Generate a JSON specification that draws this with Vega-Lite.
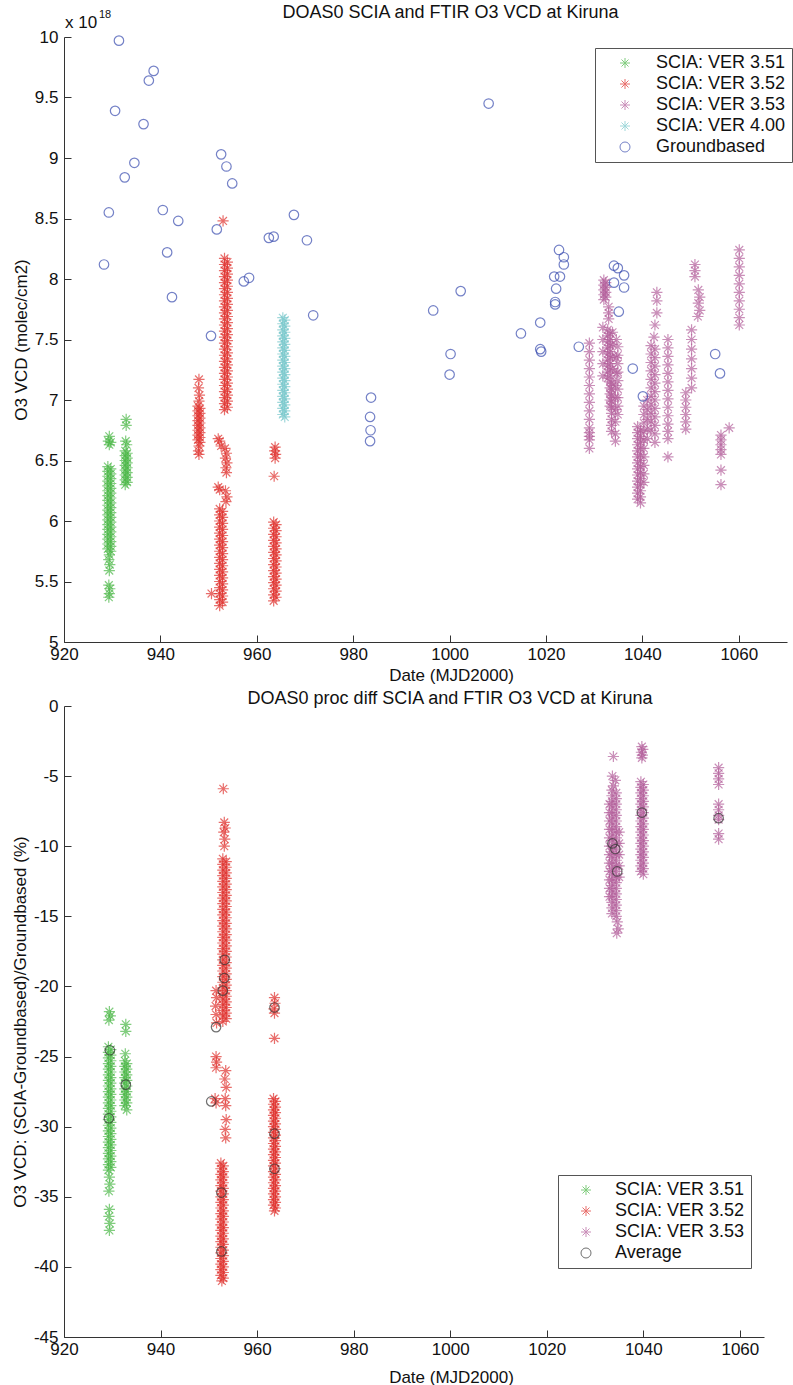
{
"$schema":"https://vega.github.io/schema/vega-lite/v6.json",
"padding":{"left":11,"top":4,"right":0,"bottom":0},
"background":"white",
"config":{"view":{"stroke":null},"font":"Liberation Sans",
"axis":{"domainColor":"#333","domainWidth":1,"tickColor":"#333","tickSize":-7,"tickWidth":1,"labelFontSize":17,"labelColor":"#111","titleFontSize":17,"titleFontWeight":"normal","titleColor":"#111","grid":false,"labelFlush":false,"labelOverlap":false},
"axisX":{"labelPadding":11,"titlePadding":5},
"axisY":{"labelPadding":13,"titlePadding":4},
"title":{"fontSize":18,"fontWeight":"normal","color":"#111","font":"Liberation Sans"}},
"datasets":{
"t351":[{"d":929.4,"v":6.70},{"d":929.2,"v":6.66},{"d":929.7,"v":6.65},{"d":929.4,"v":6.63},
{"d":929.1,"v":6.45},{"d":929.1,"v":6.41},{"d":929.1,"v":6.37},{"d":929.1,"v":6.33},{"d":929.1,"v":6.29},{"d":929.1,"v":6.25},{"d":929.1,"v":6.21},{"d":929.1,"v":6.17},{"d":929.1,"v":6.13},{"d":929.1,"v":6.09},{"d":929.1,"v":6.05},{"d":929.1,"v":6.01},{"d":929.1,"v":5.97},{"d":929.1,"v":5.93},{"d":929.1,"v":5.89},{"d":929.1,"v":5.85},{"d":929.1,"v":5.81},{"d":929.1,"v":5.77},
{"d":929.7,"v":6.43},{"d":929.7,"v":6.39},{"d":929.7,"v":6.35},{"d":929.7,"v":6.31},{"d":929.7,"v":6.27},{"d":929.7,"v":6.23},{"d":929.7,"v":6.19},{"d":929.7,"v":6.15},{"d":929.7,"v":6.11},{"d":929.7,"v":6.07},{"d":929.7,"v":6.03},{"d":929.7,"v":5.99},{"d":929.7,"v":5.95},{"d":929.7,"v":5.91},{"d":929.7,"v":5.87},{"d":929.7,"v":5.83},{"d":929.7,"v":5.79},{"d":929.7,"v":5.75},
{"d":929.4,"v":5.72},{"d":929.3,"v":5.68},{"d":929.5,"v":5.64},{"d":929.4,"v":5.59},
{"d":929.3,"v":5.47},{"d":929.5,"v":5.44},{"d":929.4,"v":5.40},{"d":929.3,"v":5.37},
{"d":932.9,"v":6.84},{"d":932.9,"v":6.79},{"d":932.8,"v":6.66},{"d":933.0,"v":6.63},
{"d":932.7,"v":6.58},{"d":932.7,"v":6.54},{"d":932.7,"v":6.50},{"d":932.7,"v":6.46},{"d":932.7,"v":6.42},{"d":932.7,"v":6.38},{"d":932.7,"v":6.34},{"d":932.7,"v":6.30},
{"d":933.1,"v":6.56},{"d":933.1,"v":6.52},{"d":933.1,"v":6.48},{"d":933.1,"v":6.44},{"d":933.1,"v":6.40},{"d":933.1,"v":6.36},{"d":933.1,"v":6.32}],
"t352":[{"d":948.0,"v":7.17},{"d":947.9,"v":7.10},{"d":948.1,"v":7.04},{"d":948.0,"v":6.99},
{"d":947.8,"v":6.95},{"d":947.8,"v":6.91},{"d":947.8,"v":6.87},{"d":947.8,"v":6.83},{"d":947.8,"v":6.79},{"d":947.8,"v":6.75},{"d":947.8,"v":6.71},{"d":947.8,"v":6.67},
{"d":948.2,"v":6.93},{"d":948.2,"v":6.89},{"d":948.2,"v":6.85},{"d":948.2,"v":6.81},{"d":948.2,"v":6.77},{"d":948.2,"v":6.73},{"d":948.2,"v":6.69},{"d":948.2,"v":6.65},
{"d":948.0,"v":6.62},{"d":947.9,"v":6.58},{"d":948.0,"v":6.55},
{"d":953.0,"v":8.48},
{"d":953.3,"v":8.17},{"d":953.3,"v":8.12},{"d":953.3,"v":8.07},{"d":953.3,"v":8.02},{"d":953.3,"v":7.97},{"d":953.3,"v":7.92},{"d":953.3,"v":7.87},{"d":953.3,"v":7.82},{"d":953.3,"v":7.77},{"d":953.3,"v":7.72},{"d":953.3,"v":7.67},{"d":953.3,"v":7.62},{"d":953.3,"v":7.57},{"d":953.3,"v":7.52},{"d":953.3,"v":7.47},{"d":953.3,"v":7.42},{"d":953.3,"v":7.37},{"d":953.3,"v":7.32},{"d":953.3,"v":7.27},{"d":953.3,"v":7.22},{"d":953.3,"v":7.17},{"d":953.3,"v":7.12},{"d":953.3,"v":7.07},{"d":953.3,"v":7.02},{"d":953.3,"v":6.97},{"d":953.3,"v":6.92},
{"d":953.9,"v":8.14},{"d":953.9,"v":8.09},{"d":953.9,"v":8.04},{"d":953.9,"v":7.99},{"d":953.9,"v":7.94},{"d":953.9,"v":7.89},{"d":953.9,"v":7.84},{"d":953.9,"v":7.79},{"d":953.9,"v":7.74},{"d":953.9,"v":7.69},{"d":953.9,"v":7.64},{"d":953.9,"v":7.59},{"d":953.9,"v":7.54},{"d":953.9,"v":7.49},{"d":953.9,"v":7.44},{"d":953.9,"v":7.39},{"d":953.9,"v":7.34},{"d":953.9,"v":7.29},{"d":953.9,"v":7.24},{"d":953.9,"v":7.19},{"d":953.9,"v":7.14},{"d":953.9,"v":7.09},{"d":953.9,"v":7.04},{"d":953.9,"v":6.99},{"d":953.9,"v":6.94},
{"d":952.3,"v":6.10},{"d":952.3,"v":6.05},{"d":952.3,"v":6.00},{"d":952.3,"v":5.95},{"d":952.3,"v":5.90},{"d":952.3,"v":5.85},{"d":952.3,"v":5.80},{"d":952.3,"v":5.75},{"d":952.3,"v":5.70},{"d":952.3,"v":5.65},{"d":952.3,"v":5.60},{"d":952.3,"v":5.55},{"d":952.3,"v":5.50},{"d":952.3,"v":5.45},{"d":952.3,"v":5.40},{"d":952.3,"v":5.35},{"d":952.3,"v":5.30},
{"d":952.9,"v":6.08},{"d":952.9,"v":6.03},{"d":952.9,"v":5.98},{"d":952.9,"v":5.93},{"d":952.9,"v":5.88},{"d":952.9,"v":5.83},{"d":952.9,"v":5.78},{"d":952.9,"v":5.73},{"d":952.9,"v":5.68},{"d":952.9,"v":5.63},{"d":952.9,"v":5.58},{"d":952.9,"v":5.53},{"d":952.9,"v":5.48},{"d":952.9,"v":5.43},{"d":952.9,"v":5.38},{"d":952.9,"v":5.33},
{"d":952.0,"v":6.68},{"d":952.3,"v":6.66},{"d":952.6,"v":6.62},{"d":953.4,"v":6.60},{"d":953.7,"v":6.56},{"d":953.5,"v":6.52},{"d":953.8,"v":6.48},{"d":953.6,"v":6.44},{"d":953.7,"v":6.40},{"d":952.0,"v":6.28},{"d":952.3,"v":6.26},{"d":953.5,"v":6.25},{"d":953.8,"v":6.20},{"d":953.6,"v":6.16},
{"d":950.6,"v":5.40},
{"d":963.5,"v":5.99},{"d":963.5,"v":5.94},{"d":963.5,"v":5.89},{"d":963.5,"v":5.84},{"d":963.5,"v":5.79},{"d":963.5,"v":5.74},{"d":963.5,"v":5.69},{"d":963.5,"v":5.64},{"d":963.5,"v":5.59},{"d":963.5,"v":5.54},{"d":963.5,"v":5.49},{"d":963.5,"v":5.44},{"d":963.5,"v":5.39},{"d":963.5,"v":5.34},
{"d":964.0,"v":5.97},{"d":964.0,"v":5.92},{"d":964.0,"v":5.87},{"d":964.0,"v":5.82},{"d":964.0,"v":5.77},{"d":964.0,"v":5.72},{"d":964.0,"v":5.67},{"d":964.0,"v":5.62},{"d":964.0,"v":5.57},{"d":964.0,"v":5.52},{"d":964.0,"v":5.47},{"d":964.0,"v":5.42},{"d":964.0,"v":5.37},
{"d":963.8,"v":6.61},{"d":963.7,"v":6.58},{"d":963.9,"v":6.55},{"d":963.8,"v":6.52},{"d":963.6,"v":6.37}],
"t400":[{"d":965.4,"v":7.68},{"d":965.4,"v":7.63},{"d":965.4,"v":7.58},{"d":965.4,"v":7.53},{"d":965.4,"v":7.48},{"d":965.4,"v":7.43},{"d":965.4,"v":7.38},{"d":965.4,"v":7.33},{"d":965.4,"v":7.28},{"d":965.4,"v":7.23},{"d":965.4,"v":7.18},{"d":965.4,"v":7.13},{"d":965.4,"v":7.08},{"d":965.4,"v":7.03},{"d":965.4,"v":6.98},{"d":965.4,"v":6.93},{"d":965.4,"v":6.88},
{"d":965.8,"v":7.66},{"d":965.8,"v":7.61},{"d":965.8,"v":7.56},{"d":965.8,"v":7.51},{"d":965.8,"v":7.46},{"d":965.8,"v":7.41},{"d":965.8,"v":7.36},{"d":965.8,"v":7.31},{"d":965.8,"v":7.26},{"d":965.8,"v":7.21},{"d":965.8,"v":7.16},{"d":965.8,"v":7.11},{"d":965.8,"v":7.06},{"d":965.8,"v":7.01},{"d":965.8,"v":6.96},{"d":965.8,"v":6.91},{"d":965.8,"v":6.86}],
"t353":[{"d":1029.0,"v":7.47},{"d":1029.0,"v":7.40},{"d":1029.0,"v":7.33},{"d":1029.0,"v":7.26},{"d":1029.0,"v":7.19},{"d":1029.0,"v":7.12},{"d":1029.0,"v":7.05},{"d":1029.0,"v":6.98},{"d":1029.0,"v":6.91},{"d":1029.0,"v":6.84},{"d":1029.0,"v":6.77},{"d":1029.0,"v":6.73},{"d":1029.0,"v":6.70},{"d":1029.0,"v":6.67},{"d":1029.0,"v":6.60},
{"d":1032.0,"v":7.99},{"d":1032.0,"v":7.95},{"d":1032.0,"v":7.91},{"d":1032.0,"v":7.87},{"d":1032.0,"v":7.83},
{"d":1032.4,"v":7.97},{"d":1032.4,"v":7.93},{"d":1032.4,"v":7.89},{"d":1032.4,"v":7.85},
{"d":1033.0,"v":7.77},{"d":1033.0,"v":7.72},{"d":1033.0,"v":7.67},
{"d":1031.8,"v":7.60},{"d":1031.8,"v":7.50},{"d":1031.8,"v":7.40},{"d":1031.8,"v":7.30},{"d":1031.8,"v":7.20},
{"d":1032.8,"v":7.58},{"d":1032.8,"v":7.53},{"d":1032.8,"v":7.48},{"d":1032.8,"v":7.43},{"d":1032.8,"v":7.38},{"d":1032.8,"v":7.33},{"d":1032.8,"v":7.28},{"d":1032.8,"v":7.23},{"d":1032.8,"v":7.18},
{"d":1033.3,"v":7.55},{"d":1033.3,"v":7.50},{"d":1033.3,"v":7.45},{"d":1033.3,"v":7.40},{"d":1033.3,"v":7.35},{"d":1033.3,"v":7.30},{"d":1033.3,"v":7.25},{"d":1033.3,"v":7.20},{"d":1033.3,"v":7.15},{"d":1033.3,"v":7.10},{"d":1033.3,"v":7.05},{"d":1033.3,"v":7.00},{"d":1033.3,"v":6.95},
{"d":1033.8,"v":7.56},{"d":1033.8,"v":7.46},{"d":1033.8,"v":7.36},{"d":1033.8,"v":7.26},
{"d":1034.6,"v":7.50},{"d":1034.6,"v":7.35},{"d":1034.6,"v":7.22},
{"d":1034.9,"v":7.44},{"d":1034.9,"v":7.37},{"d":1034.9,"v":7.30},{"d":1034.9,"v":7.23},{"d":1034.9,"v":7.16},{"d":1034.9,"v":7.09},{"d":1034.9,"v":7.02},{"d":1034.9,"v":6.95},{"d":1034.9,"v":6.88},
{"d":1033.6,"v":7.14},{"d":1033.6,"v":7.09},{"d":1033.6,"v":7.04},{"d":1033.6,"v":6.99},{"d":1033.6,"v":6.94},{"d":1033.6,"v":6.89},{"d":1033.6,"v":6.84},{"d":1033.6,"v":6.79},{"d":1033.6,"v":6.74},
{"d":1034.4,"v":7.12},{"d":1034.4,"v":7.02},{"d":1034.4,"v":6.92},{"d":1034.4,"v":6.82},{"d":1034.4,"v":6.72},{"d":1034.4,"v":6.66},
{"d":1039.0,"v":6.78},{"d":1039.0,"v":6.73},{"d":1039.0,"v":6.68},{"d":1039.0,"v":6.63},{"d":1039.0,"v":6.58},{"d":1039.0,"v":6.53},{"d":1039.0,"v":6.48},{"d":1039.0,"v":6.43},{"d":1039.0,"v":6.38},{"d":1039.0,"v":6.33},{"d":1039.0,"v":6.28},{"d":1039.0,"v":6.23},{"d":1039.0,"v":6.18},
{"d":1039.6,"v":6.75},{"d":1039.6,"v":6.70},{"d":1039.6,"v":6.65},{"d":1039.6,"v":6.60},{"d":1039.6,"v":6.55},{"d":1039.6,"v":6.50},{"d":1039.6,"v":6.45},{"d":1039.6,"v":6.40},{"d":1039.6,"v":6.35},{"d":1039.6,"v":6.30},{"d":1039.6,"v":6.25},{"d":1039.6,"v":6.20},{"d":1039.6,"v":6.15},
{"d":1040.3,"v":6.95},{"d":1040.3,"v":6.88},{"d":1040.3,"v":6.81},{"d":1040.3,"v":6.74},{"d":1040.3,"v":6.67},{"d":1040.3,"v":6.60},{"d":1040.3,"v":6.53},{"d":1040.3,"v":6.46},{"d":1040.3,"v":6.39},{"d":1040.3,"v":6.32},
{"d":1043.0,"v":7.89},{"d":1043.0,"v":7.82},{"d":1043.0,"v":7.72},{"d":1042.6,"v":7.62},{"d":1042.4,"v":7.52},
{"d":1041.8,"v":7.45},{"d":1041.8,"v":7.38},{"d":1041.8,"v":7.31},{"d":1041.8,"v":7.24},{"d":1041.8,"v":7.17},{"d":1041.8,"v":7.10},{"d":1041.8,"v":7.03},{"d":1041.8,"v":6.96},{"d":1041.8,"v":6.89},{"d":1041.8,"v":6.82},{"d":1041.8,"v":6.75},
{"d":1042.6,"v":7.42},{"d":1042.6,"v":7.35},{"d":1042.6,"v":7.28},{"d":1042.6,"v":7.21},{"d":1042.6,"v":7.14},{"d":1042.6,"v":7.07},{"d":1042.6,"v":7.00},{"d":1042.6,"v":6.93},{"d":1042.6,"v":6.86},{"d":1042.6,"v":6.79},{"d":1042.6,"v":6.72},{"d":1042.6,"v":6.65},
{"d":1041.0,"v":7.00},{"d":1041.0,"v":6.92},{"d":1041.0,"v":6.84},{"d":1041.0,"v":6.76},{"d":1041.0,"v":6.68},
{"d":1045.3,"v":7.50},{"d":1045.3,"v":7.43},{"d":1045.3,"v":7.36},{"d":1045.3,"v":7.29},{"d":1045.3,"v":7.22},{"d":1045.3,"v":7.15},{"d":1045.3,"v":7.08},{"d":1045.3,"v":7.01},{"d":1045.3,"v":6.94},{"d":1045.3,"v":6.87},{"d":1045.3,"v":6.80},{"d":1045.3,"v":6.74},{"d":1045.3,"v":6.68},{"d":1045.3,"v":6.53},
{"d":1049.0,"v":7.06},{"d":1049.0,"v":7.00},{"d":1049.0,"v":6.94},{"d":1049.0,"v":6.88},{"d":1049.0,"v":6.82},{"d":1049.0,"v":6.76},
{"d":1050.2,"v":7.58},{"d":1050.2,"v":7.50},{"d":1050.2,"v":7.42},{"d":1050.2,"v":7.34},{"d":1050.2,"v":7.26},{"d":1050.2,"v":7.18},{"d":1050.2,"v":7.10},
{"d":1050.9,"v":8.12},{"d":1050.9,"v":8.07},{"d":1050.9,"v":8.02},
{"d":1051.6,"v":7.91},{"d":1051.9,"v":7.85},{"d":1051.6,"v":7.80},{"d":1051.9,"v":7.74},{"d":1051.5,"v":7.69},
{"d":1056.3,"v":6.71},{"d":1056.3,"v":6.67},{"d":1056.3,"v":6.63},{"d":1056.3,"v":6.59},{"d":1056.3,"v":6.55},{"d":1056.3,"v":6.42},{"d":1056.3,"v":6.30},
{"d":1058.0,"v":6.77},
{"d":1060.1,"v":8.24},{"d":1060.1,"v":8.17},{"d":1060.1,"v":8.10},{"d":1060.1,"v":8.03},{"d":1060.1,"v":7.96},{"d":1060.1,"v":7.89},{"d":1060.1,"v":7.82},{"d":1060.1,"v":7.75},{"d":1060.1,"v":7.68},{"d":1060.1,"v":7.62}],
"tgb":[{"d":931.4,"v":9.97},{"d":938.6,"v":9.72},{"d":937.6,"v":9.64},{"d":930.6,"v":9.39},{"d":936.5,"v":9.28},{"d":934.6,"v":8.96},{"d":932.6,"v":8.84},{"d":952.6,"v":9.03},{"d":953.7,"v":8.93},{"d":954.9,"v":8.79},{"d":929.3,"v":8.55},{"d":928.3,"v":8.12},{"d":940.5,"v":8.57},{"d":943.7,"v":8.48},{"d":941.4,"v":8.22},{"d":942.4,"v":7.85},{"d":951.7,"v":8.41},{"d":962.5,"v":8.34},{"d":963.5,"v":8.35},{"d":967.7,"v":8.53},{"d":957.3,"v":7.98},{"d":958.4,"v":8.01},{"d":970.4,"v":8.32},{"d":971.7,"v":7.70},{"d":950.5,"v":7.53},{"d":983.7,"v":7.02},{"d":983.5,"v":6.86},{"d":983.6,"v":6.75},{"d":983.5,"v":6.66},{"d":1008.1,"v":9.45},{"d":996.6,"v":7.74},{"d":1000.2,"v":7.38},{"d":1000.0,"v":7.21},{"d":1002.3,"v":7.90},
{"d":1022.7,"v":8.24},{"d":1023.7,"v":8.18},{"d":1023.7,"v":8.12},{"d":1021.7,"v":8.02},{"d":1022.9,"v":8.02},{"d":1022.1,"v":7.92},{"d":1021.9,"v":7.81},{"d":1021.9,"v":7.79},{"d":1018.8,"v":7.64},{"d":1014.8,"v":7.55},{"d":1018.8,"v":7.42},{"d":1019.0,"v":7.40},{"d":1026.8,"v":7.44},{"d":1034.1,"v":8.11},{"d":1034.9,"v":8.09},{"d":1036.2,"v":8.03},{"d":1034.1,"v":7.97},{"d":1036.2,"v":7.93},{"d":1035.1,"v":7.73},{"d":1038.0,"v":7.26},{"d":1040.1,"v":7.03},{"d":1055.1,"v":7.38},{"d":1056.1,"v":7.22}],
"tcorner":[{"d":920,"v":10}],
"b351":[{"d":929.4,"v":-21.8},{"d":929.6,"v":-22.1},{"d":929.3,"v":-22.4},
{"d":929.2,"v":-24.3},{"d":929.2,"v":-24.7},{"d":929.2,"v":-25.1},{"d":929.2,"v":-25.5},{"d":929.2,"v":-25.9},{"d":929.2,"v":-26.3},{"d":929.2,"v":-26.7},{"d":929.2,"v":-27.1},{"d":929.2,"v":-27.5},{"d":929.2,"v":-27.9},{"d":929.2,"v":-28.3},{"d":929.2,"v":-28.7},{"d":929.2,"v":-29.1},{"d":929.2,"v":-29.5},{"d":929.2,"v":-29.9},{"d":929.2,"v":-30.3},{"d":929.2,"v":-30.7},{"d":929.2,"v":-31.1},{"d":929.2,"v":-31.5},{"d":929.2,"v":-31.9},{"d":929.2,"v":-32.3},{"d":929.2,"v":-32.7},{"d":929.2,"v":-33.1},
{"d":929.7,"v":-24.5},{"d":929.7,"v":-24.9},{"d":929.7,"v":-25.3},{"d":929.7,"v":-25.7},{"d":929.7,"v":-26.1},{"d":929.7,"v":-26.5},{"d":929.7,"v":-26.9},{"d":929.7,"v":-27.3},{"d":929.7,"v":-27.7},{"d":929.7,"v":-28.1},{"d":929.7,"v":-28.5},{"d":929.7,"v":-28.9},{"d":929.7,"v":-29.3},{"d":929.7,"v":-29.7},{"d":929.7,"v":-30.1},{"d":929.7,"v":-30.5},{"d":929.7,"v":-30.9},{"d":929.7,"v":-31.3},{"d":929.7,"v":-31.7},{"d":929.7,"v":-32.1},{"d":929.7,"v":-32.5},{"d":929.7,"v":-32.9},
{"d":929.4,"v":-33.6},{"d":929.5,"v":-34.1},{"d":929.3,"v":-34.6},
{"d":929.4,"v":-35.9},{"d":929.3,"v":-36.4},{"d":929.5,"v":-36.9},{"d":929.4,"v":-37.4},
{"d":932.8,"v":-22.7},{"d":932.8,"v":-23.2},{"d":932.7,"v":-24.8},
{"d":932.6,"v":-25.3},{"d":932.6,"v":-25.7},{"d":932.6,"v":-26.1},{"d":932.6,"v":-26.5},{"d":932.6,"v":-26.9},{"d":932.6,"v":-27.3},{"d":932.6,"v":-27.7},{"d":932.6,"v":-28.1},{"d":932.6,"v":-28.5},
{"d":933.0,"v":-25.5},{"d":933.0,"v":-25.9},{"d":933.0,"v":-26.3},{"d":933.0,"v":-26.7},{"d":933.0,"v":-27.1},{"d":933.0,"v":-27.5},{"d":933.0,"v":-27.9},{"d":933.0,"v":-28.3},{"d":933.0,"v":-28.8}],
"b352":[{"d":953.0,"v":-5.9},
{"d":953.2,"v":-8.3},{"d":953.4,"v":-8.7},{"d":953.1,"v":-9.0},{"d":953.3,"v":-9.5},{"d":953.2,"v":-10.0},
{"d":952.9,"v":-10.9},{"d":952.9,"v":-11.3},{"d":952.9,"v":-11.7},{"d":952.9,"v":-12.1},{"d":952.9,"v":-12.5},{"d":952.9,"v":-12.9},{"d":952.9,"v":-13.3},{"d":952.9,"v":-13.7},{"d":952.9,"v":-14.1},{"d":952.9,"v":-14.5},{"d":952.9,"v":-14.9},{"d":952.9,"v":-15.3},{"d":952.9,"v":-15.7},{"d":952.9,"v":-16.1},{"d":952.9,"v":-16.5},{"d":952.9,"v":-16.9},{"d":952.9,"v":-17.3},{"d":952.9,"v":-17.7},{"d":952.9,"v":-18.1},{"d":952.9,"v":-18.5},{"d":952.9,"v":-18.9},{"d":952.9,"v":-19.3},{"d":952.9,"v":-19.7},{"d":952.9,"v":-20.1},{"d":952.9,"v":-20.5},{"d":952.9,"v":-20.9},{"d":952.9,"v":-21.3},{"d":952.9,"v":-21.7},{"d":952.9,"v":-22.1},{"d":952.9,"v":-22.5},
{"d":953.6,"v":-11.1},{"d":953.6,"v":-11.5},{"d":953.6,"v":-11.9},{"d":953.6,"v":-12.3},{"d":953.6,"v":-12.7},{"d":953.6,"v":-13.1},{"d":953.6,"v":-13.5},{"d":953.6,"v":-13.9},{"d":953.6,"v":-14.3},{"d":953.6,"v":-14.7},{"d":953.6,"v":-15.1},{"d":953.6,"v":-15.5},{"d":953.6,"v":-15.9},{"d":953.6,"v":-16.3},{"d":953.6,"v":-16.7},{"d":953.6,"v":-17.1},{"d":953.6,"v":-17.5},{"d":953.6,"v":-17.9},{"d":953.6,"v":-18.3},{"d":953.6,"v":-18.7},{"d":953.6,"v":-19.1},{"d":953.6,"v":-19.5},{"d":953.6,"v":-19.9},{"d":953.6,"v":-20.3},{"d":953.6,"v":-20.7},{"d":953.6,"v":-21.1},{"d":953.6,"v":-21.5},{"d":953.6,"v":-21.9},{"d":953.6,"v":-22.3},
{"d":952.5,"v":-32.6},{"d":952.5,"v":-33.0},{"d":952.5,"v":-33.4},{"d":952.5,"v":-33.8},{"d":952.5,"v":-34.2},{"d":952.5,"v":-34.6},{"d":952.5,"v":-35.0},{"d":952.5,"v":-35.4},{"d":952.5,"v":-35.8},{"d":952.5,"v":-36.2},{"d":952.5,"v":-36.6},{"d":952.5,"v":-37.0},{"d":952.5,"v":-37.4},{"d":952.5,"v":-37.8},{"d":952.5,"v":-38.2},{"d":952.5,"v":-38.6},{"d":952.5,"v":-39.0},{"d":952.5,"v":-39.4},{"d":952.5,"v":-39.8},{"d":952.5,"v":-40.2},{"d":952.5,"v":-40.6},
{"d":953.0,"v":-32.8},{"d":953.0,"v":-33.2},{"d":953.0,"v":-33.6},{"d":953.0,"v":-34.0},{"d":953.0,"v":-34.4},{"d":953.0,"v":-34.8},{"d":953.0,"v":-35.2},{"d":953.0,"v":-35.6},{"d":953.0,"v":-36.0},{"d":953.0,"v":-36.4},{"d":953.0,"v":-36.8},{"d":953.0,"v":-37.2},{"d":953.0,"v":-37.6},{"d":953.0,"v":-38.0},{"d":953.0,"v":-38.4},{"d":953.0,"v":-38.8},{"d":953.0,"v":-39.2},{"d":953.0,"v":-39.6},{"d":953.0,"v":-40.0},{"d":953.0,"v":-40.4},{"d":953.0,"v":-40.8},{"d":952.7,"v":-41.0},
{"d":953.5,"v":-26.0},{"d":953.3,"v":-26.6},{"d":953.6,"v":-27.2},{"d":953.4,"v":-28.0},{"d":953.5,"v":-28.5},{"d":953.6,"v":-29.5},{"d":953.4,"v":-30.2},{"d":953.5,"v":-30.8},
{"d":951.5,"v":-20.3},{"d":951.6,"v":-20.8},{"d":951.4,"v":-21.4},{"d":951.5,"v":-22.0},{"d":951.6,"v":-22.6},{"d":951.5,"v":-25.0},{"d":951.6,"v":-25.4},{"d":951.5,"v":-25.8},{"d":951.3,"v":-28.0},{"d":951.5,"v":-28.3},
{"d":963.6,"v":-20.8},{"d":963.7,"v":-21.2},{"d":963.5,"v":-21.6},{"d":963.6,"v":-21.9},{"d":963.6,"v":-23.7},
{"d":963.4,"v":-28.0},{"d":963.4,"v":-28.4},{"d":963.4,"v":-28.8},{"d":963.4,"v":-29.2},{"d":963.4,"v":-29.6},{"d":963.4,"v":-30.0},{"d":963.4,"v":-30.4},{"d":963.4,"v":-30.8},{"d":963.4,"v":-31.2},{"d":963.4,"v":-31.6},{"d":963.4,"v":-32.0},{"d":963.4,"v":-32.4},{"d":963.4,"v":-32.8},{"d":963.4,"v":-33.2},{"d":963.4,"v":-33.6},{"d":963.4,"v":-34.0},{"d":963.4,"v":-34.4},{"d":963.4,"v":-34.8},{"d":963.4,"v":-35.2},{"d":963.4,"v":-35.6},
{"d":963.8,"v":-28.2},{"d":963.8,"v":-28.6},{"d":963.8,"v":-29.0},{"d":963.8,"v":-29.4},{"d":963.8,"v":-29.8},{"d":963.8,"v":-30.2},{"d":963.8,"v":-30.6},{"d":963.8,"v":-31.0},{"d":963.8,"v":-31.4},{"d":963.8,"v":-31.8},{"d":963.8,"v":-32.2},{"d":963.8,"v":-32.6},{"d":963.8,"v":-33.0},{"d":963.8,"v":-33.4},{"d":963.8,"v":-33.8},{"d":963.8,"v":-34.2},{"d":963.8,"v":-34.6},{"d":963.8,"v":-35.0},{"d":963.8,"v":-35.4},{"d":963.8,"v":-35.8},{"d":963.6,"v":-36.0}],
"b353":[{"d":1033.8,"v":-3.6},{"d":1033.6,"v":-5.0},{"d":1034.2,"v":-5.3},{"d":1033.8,"v":-5.7},
{"d":1033.5,"v":-6.0},{"d":1033.5,"v":-6.4},{"d":1033.5,"v":-6.8},{"d":1033.5,"v":-7.2},{"d":1033.5,"v":-7.6},{"d":1033.5,"v":-8.0},{"d":1033.5,"v":-8.4},{"d":1033.5,"v":-8.8},{"d":1033.5,"v":-9.2},{"d":1033.5,"v":-9.6},{"d":1033.5,"v":-10.0},{"d":1033.5,"v":-10.4},{"d":1033.5,"v":-10.8},{"d":1033.5,"v":-11.2},{"d":1033.5,"v":-11.6},{"d":1033.5,"v":-12.0},{"d":1033.5,"v":-12.4},{"d":1033.5,"v":-12.8},{"d":1033.5,"v":-13.2},{"d":1033.5,"v":-13.6},{"d":1033.5,"v":-14.0},{"d":1033.5,"v":-14.4},{"d":1033.5,"v":-14.8},
{"d":1034.4,"v":-6.2},{"d":1034.4,"v":-6.6},{"d":1034.4,"v":-7.0},{"d":1034.4,"v":-7.4},{"d":1034.4,"v":-7.8},{"d":1034.4,"v":-8.2},{"d":1034.4,"v":-8.6},{"d":1034.4,"v":-9.0},{"d":1034.4,"v":-9.4},{"d":1034.4,"v":-9.8},{"d":1034.4,"v":-10.2},{"d":1034.4,"v":-10.6},{"d":1034.4,"v":-11.0},{"d":1034.4,"v":-11.4},{"d":1034.4,"v":-11.8},{"d":1034.4,"v":-12.2},{"d":1034.4,"v":-12.6},{"d":1034.4,"v":-13.0},{"d":1034.4,"v":-13.4},{"d":1034.4,"v":-13.8},{"d":1034.4,"v":-14.2},{"d":1034.4,"v":-14.6},{"d":1034.4,"v":-15.0},
{"d":1033.0,"v":-7.0},{"d":1033.0,"v":-7.6},{"d":1033.0,"v":-8.2},{"d":1033.0,"v":-8.8},{"d":1033.0,"v":-9.4},{"d":1033.0,"v":-10.0},{"d":1033.0,"v":-10.6},{"d":1033.0,"v":-11.2},{"d":1033.0,"v":-11.8},{"d":1033.0,"v":-12.4},{"d":1033.0,"v":-13.0},{"d":1033.0,"v":-13.6},
{"d":1035.0,"v":-9.0},{"d":1035.0,"v":-9.8},{"d":1035.0,"v":-10.6},{"d":1035.0,"v":-11.4},{"d":1035.0,"v":-12.2},
{"d":1034.6,"v":-15.4},{"d":1034.8,"v":-15.9},{"d":1034.5,"v":-16.2},
{"d":1039.7,"v":-2.9},{"d":1039.9,"v":-3.1},{"d":1039.6,"v":-3.3},{"d":1039.8,"v":-3.5},{"d":1039.7,"v":-3.7},
{"d":1039.5,"v":-5.4},{"d":1039.5,"v":-5.8},{"d":1039.5,"v":-6.2},{"d":1039.5,"v":-6.6},{"d":1039.5,"v":-7.0},{"d":1039.5,"v":-7.4},{"d":1039.5,"v":-7.8},{"d":1039.5,"v":-8.2},{"d":1039.5,"v":-8.6},{"d":1039.5,"v":-9.0},{"d":1039.5,"v":-9.4},{"d":1039.5,"v":-9.8},{"d":1039.5,"v":-10.2},{"d":1039.5,"v":-10.6},{"d":1039.5,"v":-11.0},{"d":1039.5,"v":-11.4},{"d":1039.5,"v":-11.8},
{"d":1040.0,"v":-5.6},{"d":1040.0,"v":-6.0},{"d":1040.0,"v":-6.4},{"d":1040.0,"v":-6.8},{"d":1040.0,"v":-7.2},{"d":1040.0,"v":-7.6},{"d":1040.0,"v":-8.0},{"d":1040.0,"v":-8.4},{"d":1040.0,"v":-8.8},{"d":1040.0,"v":-9.2},{"d":1040.0,"v":-9.6},{"d":1040.0,"v":-10.0},{"d":1040.0,"v":-10.4},{"d":1040.0,"v":-10.8},{"d":1040.0,"v":-11.2},{"d":1040.0,"v":-11.6},{"d":1040.0,"v":-12.0},
{"d":1055.6,"v":-4.4},{"d":1055.6,"v":-4.8},{"d":1055.6,"v":-5.2},{"d":1055.6,"v":-5.6},{"d":1055.6,"v":-7.0},{"d":1055.6,"v":-7.4},{"d":1055.6,"v":-7.8},{"d":1055.6,"v":-8.1},{"d":1055.6,"v":-9.1},{"d":1055.6,"v":-9.5}],
"bavg":[{"d":929.5,"v":-24.55},{"d":929.3,"v":-29.4},{"d":932.8,"v":-27.0},{"d":953.3,"v":-18.1},{"d":953.2,"v":-19.4},{"d":952.9,"v":-20.3},{"d":951.5,"v":-22.9},{"d":950.5,"v":-28.2},{"d":952.6,"v":-34.7},{"d":952.6,"v":-38.9},{"d":963.6,"v":-21.5},{"d":963.6,"v":-30.5},{"d":963.6,"v":-33.0},{"d":1033.6,"v":-9.8},{"d":1034.2,"v":-10.2},{"d":1034.6,"v":-11.8},{"d":1039.7,"v":-7.6},{"d":1055.6,"v":-8.0}]
},
"vconcat":[
{
"width":723,"height":605,
"title":{"text":"DOAS0 SCIA and FTIR O3 VCD  at Kiruna","dx":25,"offset":-13},
"encoding":{
"x":{"field":"d","type":"quantitative","scale":{"domain":[920,1070],"nice":false,"zero":false},"axis":{"title":"Date (MJD2000)","values":[920,940,960,980,1000,1020,1040,1060],"labelExpr":"'' + datum.value","titleX":387}},
"y":{"field":"v","type":"quantitative","scale":{"domain":[5,10],"nice":false,"zero":false},"axis":{"title":"O3 VCD (molec/cm2)","values":[5,5.5,6,6.5,7,7.5,8,8.5,9,9.5,10],"labelExpr":"'' + datum.value"}}
},
"layer":[
{"data":{"name":"t351"},"mark":{"type":"point","filled":false,"size":125,"strokeWidth":1.2},
"encoding":{
"color":{"datum":"SCIA: VER 3.51","type":"nominal","scale":{"domain":["SCIA: VER 3.51","SCIA: VER 3.52","SCIA: VER 3.53","SCIA: VER 4.00","Groundbased"],"range":["#4cb848","#e0322e","#b4609c","#78c8cc","#3a4db0"]},
"legend":{"orient":"none","legendX":531,"legendY":11,"title":null,"strokeColor":"#555","fillColor":"#ffffff","padding":6,"symbolOffset":15,"labelOffset":22,"labelFontSize":18,"labelColor":"#111","symbolSize":100,"symbolStrokeWidth":1,"rowPadding":3,"labelLimit":300}},
"shape":{"datum":"SCIA: VER 3.51","type":"nominal","scale":{"domain":["SCIA: VER 3.51","SCIA: VER 3.52","SCIA: VER 3.53","SCIA: VER 4.00","Groundbased"],"range":["M0,-1L0,1M-1,0L1,0M-0.7,-0.7L0.7,0.7M-0.7,0.7L0.7,-0.7","M0,-1L0,1M-1,0L1,0M-0.7,-0.7L0.7,0.7M-0.7,0.7L0.7,-0.7","M0,-1L0,1M-1,0L1,0M-0.7,-0.7L0.7,0.7M-0.7,0.7L0.7,-0.7","M0,-1L0,1M-1,0L1,0M-0.7,-0.7L0.7,0.7M-0.7,0.7L0.7,-0.7","circle"]},
"legend":{"orient":"none","legendX":531,"legendY":11,"title":null,"strokeColor":"#555","fillColor":"#ffffff","padding":6,"symbolOffset":15,"labelOffset":22,"labelFontSize":18,"labelColor":"#111","symbolSize":100,"symbolStrokeWidth":1,"rowPadding":3,"labelLimit":300}}}},
{"data":{"name":"t352"},"mark":{"type":"point","filled":false,"size":125,"strokeWidth":1.2},
"encoding":{"color":{"datum":"SCIA: VER 3.52","type":"nominal"},"shape":{"datum":"SCIA: VER 3.52","type":"nominal"}}},
{"data":{"name":"t353"},"mark":{"type":"point","filled":false,"size":125,"strokeWidth":1.2},
"encoding":{"color":{"datum":"SCIA: VER 3.53","type":"nominal"},"shape":{"datum":"SCIA: VER 3.53","type":"nominal"}}},
{"data":{"name":"t400"},"mark":{"type":"point","filled":false,"size":125,"strokeWidth":1.2},
"encoding":{"color":{"datum":"SCIA: VER 4.00","type":"nominal"},"shape":{"datum":"SCIA: VER 4.00","type":"nominal"}}},
{"data":{"name":"tgb"},"mark":{"type":"point","filled":false,"size":90,"strokeWidth":1.2},
"encoding":{"color":{"datum":"Groundbased","type":"nominal"},"shape":{"datum":"Groundbased","type":"nominal"}}},
{"data":{"name":"tcorner"},"mark":{"type":"text","text":"x 10","align":"left","baseline":"alphabetic","dx":1,"dy":-9,"fontSize":17,"color":"#111","font":"Liberation Sans"},"encoding":{}},
{"data":{"name":"tcorner"},"mark":{"type":"text","text":"18","align":"left","baseline":"alphabetic","dx":35,"dy":-19,"fontSize":11,"color":"#111","font":"Liberation Sans"},"encoding":{}}
]
},
{
"width":700,"height":631,
"title":{"text":"DOAS0 proc diff SCIA and FTIR O3 VCD at Kiruna","dx":36,"offset":-11},
"encoding":{
"x":{"field":"d","type":"quantitative","scale":{"domain":[920,1065],"nice":false,"zero":false},"axis":{"title":"Date (MJD2000)","values":[920,940,960,980,1000,1020,1040,1060],"labelExpr":"'' + datum.value","titleX":387,"titlePadding":12}},
"y":{"field":"v","type":"quantitative","scale":{"domain":[-45,0],"nice":false,"zero":false},"axis":{"title":"O3 VCD: (SCIA-Groundbased)/Groundbased (%)","values":[-45,-40,-35,-30,-25,-20,-15,-10,-5,0],"labelExpr":"'' + datum.value"}}
},
"layer":[
{"data":{"name":"b351"},"mark":{"type":"point","filled":false,"size":125,"strokeWidth":1.2},
"encoding":{
"color":{"datum":"SCIA: VER 3.51","type":"nominal","scale":{"domain":["SCIA: VER 3.51","SCIA: VER 3.52","SCIA: VER 3.53","Average"],"range":["#4cb848","#e0322e","#b4609c","#333333"]},
"legend":{"orient":"none","legendX":494,"legendY":469,"title":null,"strokeColor":"#555","fillColor":"#ffffff","padding":6,"symbolOffset":13,"labelOffset":20,"labelFontSize":18,"labelColor":"#111","symbolSize":100,"symbolStrokeWidth":1,"rowPadding":3,"labelLimit":300}},
"shape":{"datum":"SCIA: VER 3.51","type":"nominal","scale":{"domain":["SCIA: VER 3.51","SCIA: VER 3.52","SCIA: VER 3.53","Average"],"range":["M0,-1L0,1M-1,0L1,0M-0.7,-0.7L0.7,0.7M-0.7,0.7L0.7,-0.7","M0,-1L0,1M-1,0L1,0M-0.7,-0.7L0.7,0.7M-0.7,0.7L0.7,-0.7","M0,-1L0,1M-1,0L1,0M-0.7,-0.7L0.7,0.7M-0.7,0.7L0.7,-0.7","circle"]},
"legend":{"orient":"none","legendX":494,"legendY":469,"title":null,"strokeColor":"#555","fillColor":"#ffffff","padding":6,"symbolOffset":13,"labelOffset":20,"labelFontSize":18,"labelColor":"#111","symbolSize":100,"symbolStrokeWidth":1,"rowPadding":3,"labelLimit":300}}}},
{"data":{"name":"b352"},"mark":{"type":"point","filled":false,"size":125,"strokeWidth":1.2},
"encoding":{"color":{"datum":"SCIA: VER 3.52","type":"nominal"},"shape":{"datum":"SCIA: VER 3.52","type":"nominal"}}},
{"data":{"name":"b353"},"mark":{"type":"point","filled":false,"size":125,"strokeWidth":1.2},
"encoding":{"color":{"datum":"SCIA: VER 3.53","type":"nominal"},"shape":{"datum":"SCIA: VER 3.53","type":"nominal"}}},
{"data":{"name":"bavg"},"mark":{"type":"point","filled":false,"size":90,"strokeWidth":1.2},
"encoding":{"color":{"datum":"Average","type":"nominal"},"shape":{"datum":"Average","type":"nominal"}}}
]
}
],
"spacing":7,
"resolve":{"scale":{"color":"independent","shape":"independent"}}
}
